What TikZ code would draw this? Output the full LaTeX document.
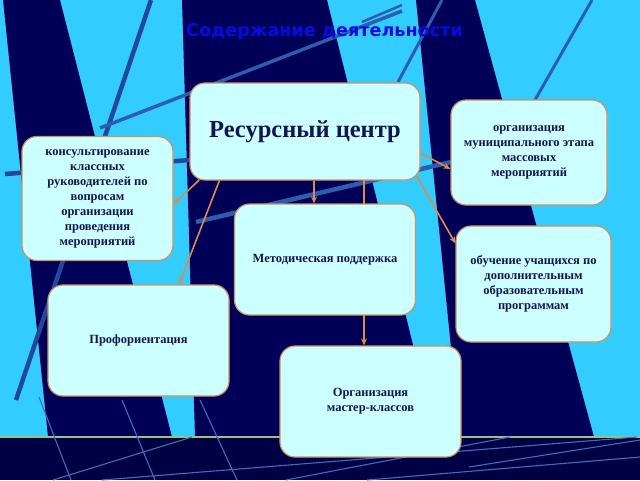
\documentclass[tikz,border=0pt]{standalone}
\usepackage{fontspec}
\setmainfont{Liberation Serif}
\newfontfamily\titlefont{DejaVu Sans}
\usetikzlibrary{arrows.meta}
\definecolor{sky}{HTML}{33CCFF}
\definecolor{navy}{HTML}{000058}
\definecolor{band}{HTML}{000044}
\definecolor{ln}{HTML}{22489C}
\definecolor{lnb}{HTML}{2C5EAE}
\definecolor{thinln}{HTML}{3A70B8}
\definecolor{hline}{HTML}{9BC17A}
\definecolor{boxfill}{HTML}{CCFFFF}
\definecolor{boxline}{HTML}{D09060}
\definecolor{txt}{HTML}{141452}
\definecolor{arrc}{HTML}{E08A4A}
\definecolor{titlec}{HTML}{0A0AE0}
\pgfdeclarelayer{bgl}
\pgfdeclarelayer{arl}
\pgfsetlayers{bgl,arl,main}
\begin{document}
\begin{tikzpicture}[x=1pt,y=-1pt,
  card/.style={draw=boxline, line width=1.2pt, fill=boxfill, rounded corners=15pt,
    align=center, text=txt, font=\bfseries\fontsize{12.5}{15}\selectfont, inner sep=2pt},
  arr/.style={draw=arrc, line width=1.6pt, -{Stealth[length=7pt,width=6pt]}},
  thick line/.style={draw=ln, line width=4.5pt},
  mid line/.style={draw=lnb, line width=3pt},
  fine line/.style={draw=thinln, line width=1.1pt}]
\useasboundingbox (0,0) rectangle (640,480);

% ---- nodes ----
\node[card, minimum width=230pt, minimum height=97pt,
  font=\bfseries\fontsize{24.5}{28}\selectfont] (rc) at (305,131.5) {Ресурсный центр};
\node[card, minimum width=156pt, minimum height=105pt] (mun) at (529,152.5)
  {организация\\муниципального этапа\\массовых\\мероприятий};
\node[card, minimum width=151pt, minimum height=124pt] (cons) at (97.5,198.5)
  {консультирование\\классных\\руководителей по\\вопросам\\организации\\проведения\\мероприятий};
\node[card, minimum width=181pt, minimum height=111pt] (met) at (325,259.5)
  {Методическая поддержка};
\node[card, minimum width=155pt, minimum height=116pt] (obu) at (533.5,284)
  {обучение учащихся по\\дополнительным\\образовательным\\программам};
\node[card, minimum width=181pt, minimum height=111pt] (prof) at (138.5,340.5)
  {Профориентация};
\node[card, minimum width=181pt, minimum height=111pt] (org) at (370.5,401.5)
  {Организация\\мастер-классов};
\node[font=\titlefont\bfseries\fontsize{17.6}{20}\selectfont, text=titlec] (title)
  at (324.5,32) {Содержание деятельности};

% ---- connectors ----
\draw[arr] ([xshift=10pt,yshift=0.9pt]rc.south west) -- ([yshift=-6pt]cons.east);
\draw[arr] ([xshift=30pt]rc.south west) -- ([xshift=40.5pt]prof.north);
\draw[arr] ([xshift=9pt]rc.south) -- ([xshift=9pt]rc.south |- met.north);
\begin{pgfonlayer}{arl}
\draw[arr] ([xshift=59pt,yshift=2pt]rc.south) -- ([xshift=59pt]rc.south |- org.north);
\end{pgfonlayer}
\draw[arr] ([yshift=-21.5pt]rc.east) -- ([yshift=-16.5pt]mun.west);
\draw[arr] ([xshift=-4pt,yshift=4.8pt]rc.south east) -- ([yshift=-18pt]obu.north west);

% ---- background ----
\begin{pgfonlayer}{bgl}
\fill[sky] (0,0) rectangle (640,480);
\fill[navy] (3,0) -- (60,0) -- (172,437) -- (48,437) -- cycle;
\fill[navy] (182,0) -- (327,0) -- (436,437) -- (195,437) -- cycle;
\fill[navy] (416,0) -- (475,0) -- (594,437) -- (460,437) -- cycle;
\draw[thick line] (151,0) -- (16,400);
\draw[mid line, line width=3.5pt] (100,128) -- (402,11);
\draw[mid line, line width=2.5pt] (362,22) -- (402,5);
\draw[thick line] (5,174) -- (190,160);
\draw[mid line] (442,0) -- (398,82);
\draw[mid line, line width=4.5pt] (196,222) -- (451,162);
\draw[mid line] (592,0) -- (535,100);
\fill[band] (0,437) rectangle (640,480);
\draw[hline, line width=1.5pt] (0,437) -- (640,437);
\draw[fine line] (39,397) -- (71,480);
\draw[fine line] (122,400) -- (155,480);
\draw[fine line] (200,400) -- (237,480);
\draw[fine line] (53,480) -- (192,437);
\draw[fine line] (102,480) -- (637,437);
\draw[fine line] (286,480) -- (510,437);
\draw[fine line] (469,467) -- (640,440);
\draw[fine line] (367,480) -- (640,457);
\end{pgfonlayer}
\end{tikzpicture}
\end{document}
